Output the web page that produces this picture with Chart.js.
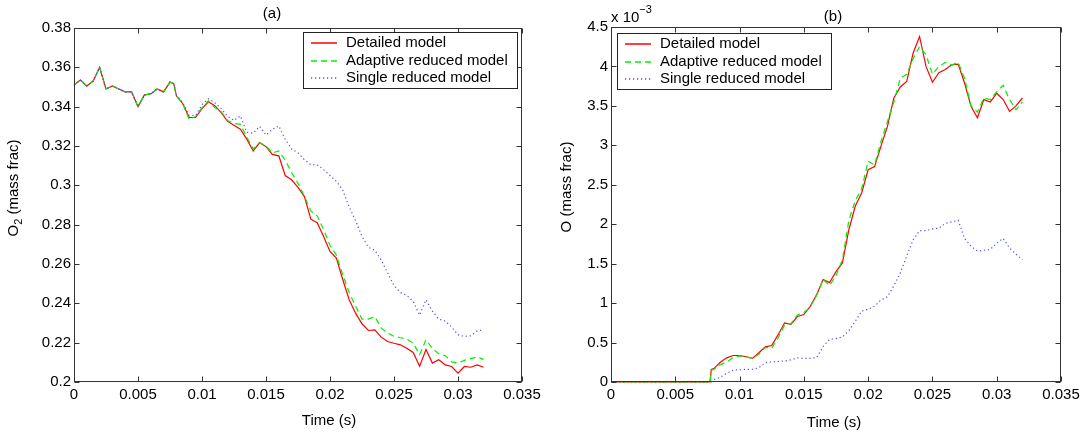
<!DOCTYPE html>
<html><head><meta charset="utf-8">
<script src="https://cdn.jsdelivr.net/npm/chart.js@4.4.1/dist/chart.umd.min.js"></script>
<style>
html,body{margin:0;padding:0;background:#fff;}
#wrap{position:relative;width:1090px;height:436px;overflow:hidden;}
.cv{position:absolute;top:0;width:545px;height:436px;}
</style></head><body>
<div id="wrap">
<div class="cv" style="left:0"><canvas id="ca" width="545" height="436"></canvas></div>
<div class="cv" style="left:545px"><canvas id="cb" width="545" height="436"></canvas></div>
</div>
<script>
// ---- data (time in s) ----
const timeS = [0,0.0005,0.001,0.0015,0.002,0.0025,0.003,0.0035,0.004,0.0045,
 0.005,0.0055,0.006,0.0065,0.007,0.0075,0.0077,0.0078,0.008,0.0085,0.009,0.0095,
 0.01,0.0105,0.011,0.0115,0.012,0.0125,0.013,0.0135,0.014,0.0145,
 0.015,0.0155,0.016,0.0165,0.017,0.0175,0.018,0.0185,0.019,0.0195,
 0.02,0.0205,0.021,0.0215,0.022,0.0225,0.023,0.0235,0.024,0.0245,
 0.025,0.0255,0.026,0.0265,0.027,0.0275,0.028,0.0285,0.029,0.0295,
 0.03,0.0305,0.031,0.0315,0.032];

const seriesNames = ['Detailed model','Adaptive reduced model','Single reduced model'];

// panel (a): O2 mass fraction
const o2Detailed = [0.351,0.3535,0.3505,0.353,0.360,0.349,0.3505,0.349,0.3475,0.3475,
 0.340,0.346,0.3465,0.349,0.3475,0.3525,0.352,0.3515,0.3455,0.3415,0.3345,0.3345,
 0.339,0.3425,0.3405,0.337,0.3325,0.3305,0.3285,0.3235,0.3175,0.3217,
 0.3197,0.3157,0.315,0.305,0.3028,0.299,0.2943,0.2828,0.281,0.274,
 0.2664,0.263,0.252,0.2418,0.235,0.2296,0.2262,0.2265,0.2228,0.2206,
 0.2197,0.2189,0.2172,0.215,0.208,0.2165,0.2096,0.2113,0.2087,0.2079,
 0.2045,0.2079,0.2075,0.2087,0.2075];
const o2Adaptive = [0.351,0.3535,0.3505,0.353,0.360,0.349,0.3505,0.349,0.3475,0.3475,
 0.340,0.346,0.3465,0.349,0.3475,0.3525,0.352,0.3515,0.3455,0.3415,0.3335,0.335,
 0.3395,0.343,0.3395,0.3375,0.333,0.3315,0.331,0.3245,0.3185,0.3217,
 0.320,0.3165,0.3175,0.3128,0.3065,0.301,0.2945,0.287,0.2845,0.2775,
 0.2695,0.2645,0.2545,0.2455,0.2385,0.232,0.232,0.2333,0.2274,0.2249,
 0.2232,0.2225,0.2218,0.2198,0.2139,0.2215,0.217,0.2144,0.2134,0.2102,
 0.2097,0.211,0.2119,0.2127,0.2115];
const o2Single = [0.351,0.3535,0.3505,0.353,0.360,0.349,0.3505,0.349,0.3475,0.3475,
 0.340,0.346,0.3465,0.349,0.3475,0.3525,0.352,0.3515,0.346,0.342,0.3355,0.3355,
 0.341,0.344,0.342,0.339,0.335,0.333,0.3353,0.327,0.3265,0.330,
 0.3256,0.3285,0.3302,0.3235,0.3185,0.3165,0.313,0.3105,0.3105,0.308,
 0.305,0.302,0.2975,0.289,0.282,0.274,0.2685,0.267,0.262,0.2555,
 0.249,0.2455,0.244,0.241,0.234,0.2418,0.236,0.232,0.231,0.228,
 0.224,0.2232,0.2235,0.226,0.2265];

// panel (b): O mass fraction, in units of 1e-3
const oDetailed = [0,0,0,0,0,0,0,0,0,0,
 0,0,0,0,0,0,0,0.16,0.17,0.25,0.306,0.336,
 0.336,0.32,0.30,0.37,0.446,0.463,0.60,0.75,0.73,0.83,
 0.855,0.96,1.11,1.30,1.26,1.40,1.51,1.93,2.23,2.40,
 2.69,2.73,2.99,3.24,3.60,3.74,3.81,4.17,4.38,4.00,
 3.80,3.92,3.96,4.02,4.03,3.79,3.495,3.35,3.58,3.55,
 3.66,3.58,3.43,3.50,3.60];
const oAdaptive = [0,0,0,0,0,0,0,0,0,0,
 0,0,0,0,0,0,0,0.15,0.16,0.22,0.25,0.31,
 0.33,0.32,0.30,0.35,0.44,0.43,0.56,0.72,0.74,0.85,
 0.88,0.95,1.10,1.30,1.22,1.35,1.55,2.05,2.30,2.45,
 2.80,2.75,3.05,3.30,3.55,3.85,3.90,4.10,4.25,4.15,
 3.90,4.00,4.05,4.02,4.05,3.85,3.50,3.42,3.60,3.58,
 3.68,3.76,3.58,3.45,3.55];
const oSingle = [0,0,0,0,0,0,0,0,0,0,
 0,0,0,0,0,0,0,0,0.03,0.06,0.11,0.15,
 0.155,0.16,0.16,0.18,0.245,0.255,0.26,0.265,0.28,0.305,
 0.30,0.30,0.31,0.45,0.54,0.55,0.57,0.65,0.77,0.90,
 0.92,0.96,1.04,1.08,1.22,1.38,1.60,1.80,1.92,1.92,
 1.94,1.95,2.01,2.03,2.05,1.82,1.72,1.66,1.67,1.68,
 1.76,1.82,1.70,1.62,1.55];

// tick values
const xTickValues = [0,0.005,0.01,0.015,0.02,0.025,0.03,0.035];
const yTickValuesA = [0.2,0.22,0.24,0.26,0.28,0.3,0.32,0.34,0.36,0.38];
const yTickValuesB = [0,0.5,1,1.5,2,2.5,3,3.5,4,4.5];

// ---- drawing ----
const FONT = '"Liberation Sans", Arial, Helvetica, sans-serif';
const styles = [
  {borderColor:'#ff0000', borderWidth:1.2, borderDash:[], order:3},
  {borderColor:'#00f000', borderWidth:1.2, borderDash:[6,4], order:2},
  {borderColor:'#4a4aff', borderWidth:1.2, borderDash:[1.2,2.8], order:1}
];
function makeDatasets(arrs){
  return arrs.map((arr,i)=>Object.assign({
    label: seriesNames[i],
    data: timeS.map((t,k)=>({x:t,y:arr[k]})),
    pointRadius:0, tension:0, fill:false, clip:4
  }, styles[i]));
}
const fmt = v => String(+(+v).toFixed(4));

const framePlugin = {
  id:'frame',
  afterDatasetsDraw(chart, args, o){
    const {ctx, chartArea:a, scales:{x,y}} = chart;
    ctx.save();
    ctx.setLineDash([]);
    ctx.strokeStyle = '#333'; ctx.lineWidth = 1;
    const L = Math.round(a.left)+0.5, R = Math.round(a.right)-0.5;
    const T = Math.round(a.top)+0.5, B = Math.round(a.bottom)-0.5;
    const tl = 5;
    ctx.beginPath();
    x.ticks.forEach(t=>{ const p=Math.round(x.getPixelForValue(t.value))+0.5;
      ctx.moveTo(p,B); ctx.lineTo(p,B-tl); ctx.moveTo(p,T); ctx.lineTo(p,T+tl); });
    y.ticks.forEach(t=>{ const p=Math.round(y.getPixelForValue(t.value))+0.5;
      ctx.moveTo(L,p); ctx.lineTo(L+tl,p); ctx.moveTo(R,p); ctx.lineTo(R-tl,p); });
    ctx.stroke();
    ctx.strokeRect(L,T,R-L,B-T);

    // legend box
    const lg = o.legend;
    ctx.font = '15px '+FONT;
    const ds = chart.data.datasets;
    const maxW = Math.max(...ds.map(d=>ctx.measureText(d.label).width));
    const w = Math.round(43+maxW+9), h = 56;
    const bx = Math.round(lg.anchor==='right' ? a.right-lg.dx-w : a.left+lg.dx);
    const by = Math.round(a.top+lg.dy);
    ctx.fillStyle='#fff'; ctx.fillRect(bx,by,w,h);
    ctx.strokeStyle='#222'; ctx.lineWidth=1; ctx.strokeRect(bx+0.5,by+0.5,w,h);
    ds.forEach((d,i)=>{
      const cy = by+11+i*17.5;
      const ly = Math.round(cy);
      ctx.save();
      ctx.strokeStyle=d.borderColor; ctx.lineWidth=1.5; ctx.setLineDash(d.borderDash||[]);
      ctx.beginPath(); ctx.moveTo(bx+8,ly); ctx.lineTo(bx+34,ly); ctx.stroke();
      ctx.restore();
      ctx.fillStyle='#000'; ctx.textAlign='left'; ctx.textBaseline='middle';
      ctx.fillText(d.label,bx+43,cy);
    });

    // free texts
    (o.texts||[]).forEach(t=>{
      ctx.save();
      ctx.fillStyle='#000'; ctx.textBaseline='middle';
      ctx.translate(t.x,t.y);
      if(t.rot) ctx.rotate(t.rot);
      const parts = t.parts;
      let total=0;
      parts.forEach(p=>{ ctx.font=p.size+'px '+FONT; p.w=ctx.measureText(p.s).width; total+=p.w; });
      let cx = t.align==='left' ? 0 : -total/2;
      ctx.textAlign='left';
      parts.forEach(p=>{ ctx.font=p.size+'px '+FONT; ctx.fillText(p.s,cx,p.dy||0); cx+=p.w; });
      ctx.restore();
    });
    ctx.restore();
  }
};

function makeChart(id, arrs, yMin, yMax, yTicks, yWidth, pad, frameOpts){
  return new Chart(document.getElementById(id), {
    type:'line',
    data:{datasets: makeDatasets(arrs)},
    options:{
      responsive:false, animation:false, devicePixelRatio:1,
      layout:{padding:pad},
      plugins:{legend:{display:false}, tooltip:{enabled:false}, frame:frameOpts},
      scales:{
        x:{type:'linear', min:0, max:0.035,
          afterBuildTicks:s=>{ s.ticks = xTickValues.map(v=>({value:v})); },
          afterFit:s=>{ s.height = 54; },
          grid:{display:false, drawTicks:false}, border:{display:false},
          ticks:{font:{family:FONT,size:15}, color:'#000', padding:4, maxRotation:0, autoSkip:false, callback:fmt}},
        y:{type:'linear', min:yMin, max:yMax,
          afterBuildTicks:s=>{ s.ticks = yTicks.map(v=>({value:v})); },
          afterFit:s=>{ s.width = yWidth; },
          grid:{display:false, drawTicks:false}, border:{display:false},
          ticks:{font:{family:FONT,size:15}, color:'#000', padding:3, autoSkip:false, callback:fmt}}
      }
    },
    plugins:[framePlugin]
  });
}

makeChart('ca', [o2Detailed,o2Adaptive,o2Single], 0.2, 0.38, yTickValuesA, 74,
  {top:28,right:23,left:0,bottom:0},
  {legend:{anchor:'right',dx:5,dy:4},
   texts:[
    {x:272,y:14,parts:[{s:'(a)',size:15}]},
    {x:329,y:421,parts:[{s:'Time (s)',size:15}]},
    {x:14,y:188,rot:-Math.PI/2,parts:[{s:'O',size:15},{s:'2',size:11,dy:5},{s:' (mass frac)',size:15}]}
   ]});

makeChart('cb', [oDetailed,oAdaptive,oSingle], 0, 4.5, yTickValuesB, 66,
  {top:27,right:29,left:0,bottom:0},
  {legend:{anchor:'left',dx:6,dy:6},
   texts:[
    {x:288,y:17,parts:[{s:'(b)',size:15}]},
    {x:289,y:423,parts:[{s:'Time (s)',size:15}]},
    {x:22,y:187,rot:-Math.PI/2,parts:[{s:'O (mass frac)',size:15}]},
    {x:66,y:18,align:'left',parts:[{s:'x 10',size:15},{s:'\u22123',size:11,dy:-8}]}
   ]});
</script>
</body></html>
